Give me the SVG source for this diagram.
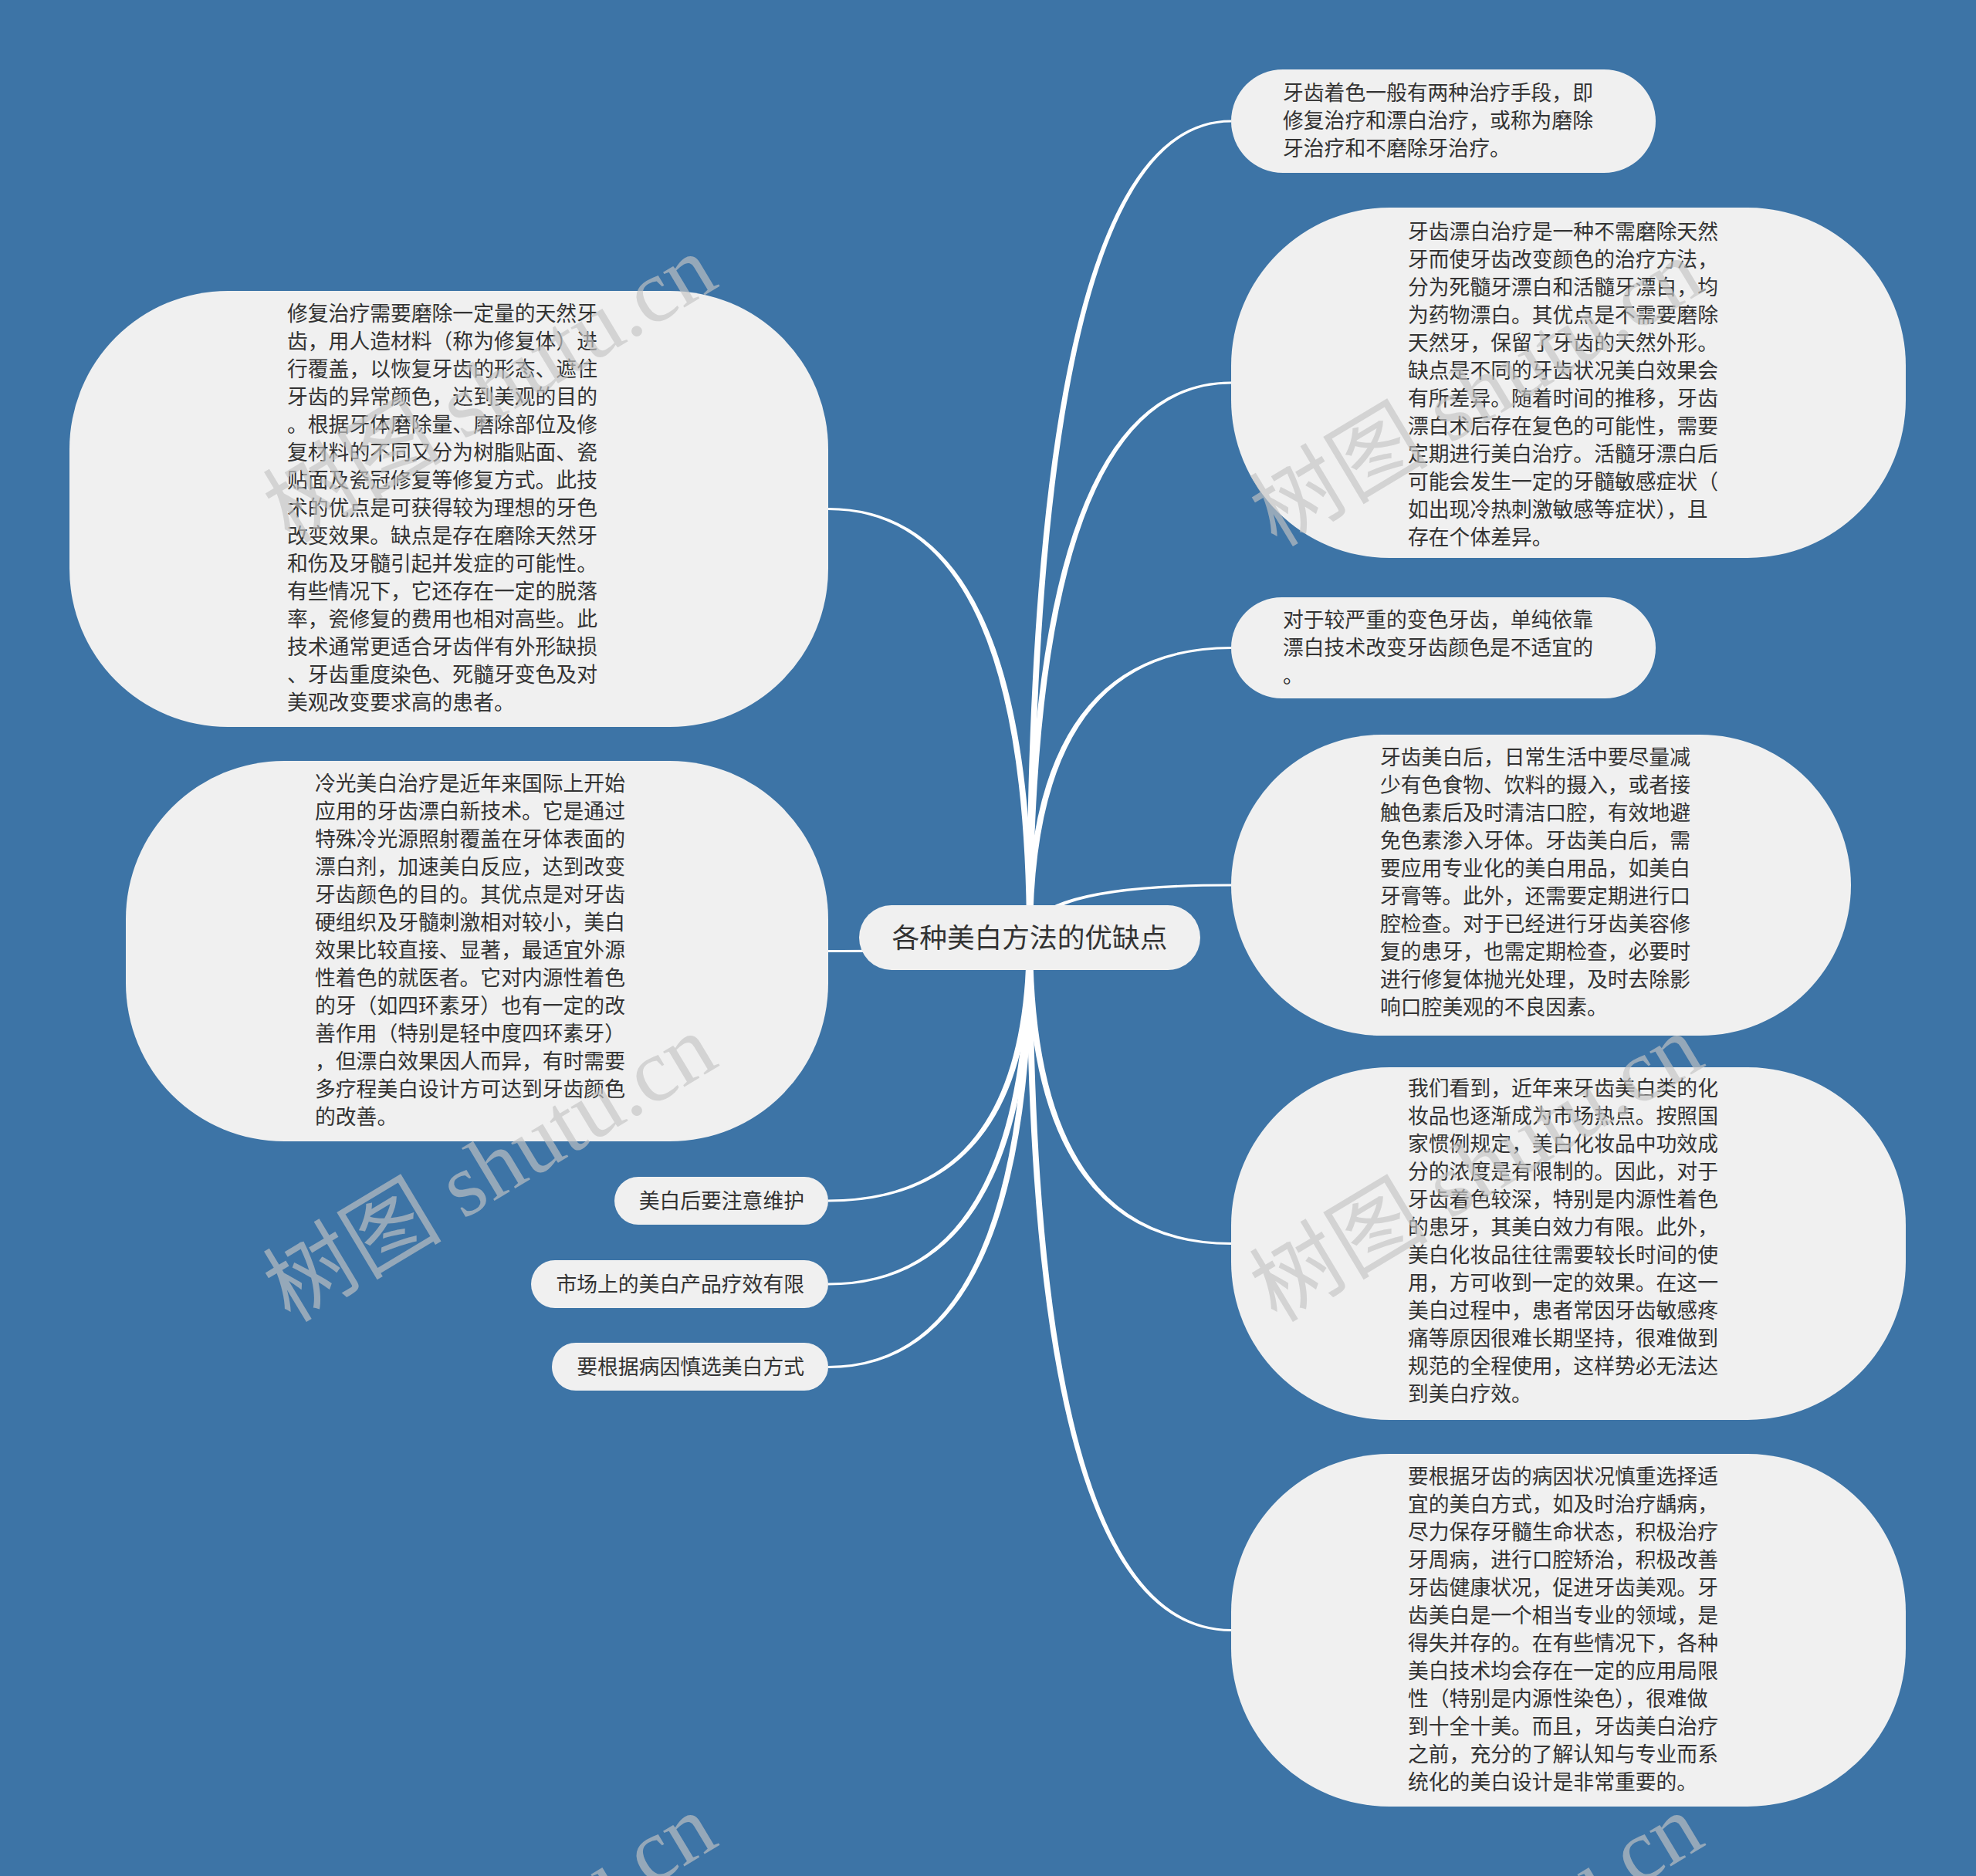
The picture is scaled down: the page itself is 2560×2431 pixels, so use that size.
<svg xmlns="http://www.w3.org/2000/svg" width="2560" height="2431" viewBox="0 0 2560 2431">
<style>
.bg{fill:#3d74a6}
.node{fill:#f0f0f0}
.t{font-family:"Noto Sans CJK SC","Liberation Sans",sans-serif;font-size:26.8px;fill:#333333}
.tc{font-family:"Noto Sans CJK SC","Liberation Sans",sans-serif;font-size:35.7px;fill:#333333}
.edge{fill:#ffffff}
.wm{font-family:"Liberation Serif","Noto Sans CJK SC",serif;font-size:116px;fill:#c4c4c4;opacity:0.65}
</style>
<rect class="bg" x="0" y="0" width="2560" height="2431"/>
<g id="connectors">
<path class="edge" d="M1338 1215 Q1338 158.5 1595 158.5 L1595 155.5 Q1330 155.5 1330 1215 Z"/>
<path class="edge" d="M1338 1215 Q1338 497.5 1595 497.5 L1595 494.5 Q1330 494.5 1330 1215 Z"/>
<path class="edge" d="M1338 1215 Q1338 841 1595 841 L1595 838 Q1330 838 1330 1215 Z"/>
<path class="edge" d="M1338 1215 Q1338 1148.5 1595 1148.5 L1595 1145.5 Q1330 1145.5 1330 1215 Z"/>
<path class="edge" d="M1338 1215 Q1338 1610 1595 1610 L1595 1613 Q1330 1613 1330 1215 Z"/>
<path class="edge" d="M1338 1215 Q1338 2111 1595 2111 L1595 2114 Q1330 2114 1330 1215 Z"/>
<path class="edge" d="M1338 1215 Q1338 658 1073 658 L1073 661 Q1330 661 1330 1215 Z"/>
<path class="edge" d="M1338 1215 Q1338 1234 1073 1234 L1073 1231 Q1330 1231 1330 1215 Z"/>
<path class="edge" d="M1338 1215 Q1338 1557.5 1073 1557.5 L1073 1554.5 Q1330 1554.5 1330 1215 Z"/>
<path class="edge" d="M1338 1215 Q1338 1665.5 1073 1665.5 L1073 1662.5 Q1330 1662.5 1330 1215 Z"/>
<path class="edge" d="M1338 1215 Q1338 1773 1073 1773 L1073 1770 Q1330 1770 1330 1215 Z"/>
</g>
<g id="center">
<rect class="node" x="1113" y="1173" width="442" height="84" rx="42"/>
<text class="tc" x="1334" y="1228" text-anchor="middle">各种美白方法的优缺点</text>
</g>
<g id="r1">
<rect class="node" x="1595" y="90" width="550" height="134" rx="67"/>
<text class="t" x="1662" y="130">牙齿着色一般有两种治疗手段，即</text>
<text class="t" x="1662" y="166">修复治疗和漂白治疗，或称为磨除</text>
<text class="t" x="1662" y="202">牙治疗和不磨除牙治疗。</text>
</g>
<g id="r2">
<rect class="node" x="1595" y="269" width="874" height="454" rx="205"/>
<text class="t" x="1824" y="310">牙齿漂白治疗是一种不需磨除天然</text>
<text class="t" x="1824" y="346">牙而使牙齿改变颜色的治疗方法，</text>
<text class="t" x="1824" y="382">分为死髓牙漂白和活髓牙漂白，均</text>
<text class="t" x="1824" y="418">为药物漂白。其优点是不需要磨除</text>
<text class="t" x="1824" y="454">天然牙，保留了牙齿的天然外形。</text>
<text class="t" x="1824" y="490">缺点是不同的牙齿状况美白效果会</text>
<text class="t" x="1824" y="526">有所差异。随着时间的推移，牙齿</text>
<text class="t" x="1824" y="562">漂白术后存在复色的可能性，需要</text>
<text class="t" x="1824" y="598">定期进行美白治疗。活髓牙漂白后</text>
<text class="t" x="1824" y="634">可能会发生一定的牙髓敏感症状（</text>
<text class="t" x="1824" y="670">如出现冷热刺激敏感等症状），且</text>
<text class="t" x="1824" y="706">存在个体差异。</text>
</g>
<g id="r3">
<rect class="node" x="1595" y="774" width="550" height="131" rx="65.5"/>
<text class="t" x="1662" y="813">对于较严重的变色牙齿，单纯依靠</text>
<text class="t" x="1662" y="849">漂白技术改变牙齿颜色是不适宜的</text>
<text class="t" x="1662" y="885">。</text>
</g>
<g id="r4">
<rect class="node" x="1595" y="952" width="803" height="390" rx="195"/>
<text class="t" x="1788" y="991">牙齿美白后，日常生活中要尽量减</text>
<text class="t" x="1788" y="1027">少有色食物、饮料的摄入，或者接</text>
<text class="t" x="1788" y="1063">触色素后及时清洁口腔，有效地避</text>
<text class="t" x="1788" y="1099">免色素渗入牙体。牙齿美白后，需</text>
<text class="t" x="1788" y="1135">要应用专业化的美白用品，如美白</text>
<text class="t" x="1788" y="1171">牙膏等。此外，还需要定期进行口</text>
<text class="t" x="1788" y="1207">腔检查。对于已经进行牙齿美容修</text>
<text class="t" x="1788" y="1243">复的患牙，也需定期检查，必要时</text>
<text class="t" x="1788" y="1279">进行修复体抛光处理，及时去除影</text>
<text class="t" x="1788" y="1315">响口腔美观的不良因素。</text>
</g>
<g id="r5">
<rect class="node" x="1595" y="1383" width="874" height="457" rx="205"/>
<text class="t" x="1824" y="1420">我们看到，近年来牙齿美白类的化</text>
<text class="t" x="1824" y="1456">妆品也逐渐成为市场热点。按照国</text>
<text class="t" x="1824" y="1492">家惯例规定，美白化妆品中功效成</text>
<text class="t" x="1824" y="1528">分的浓度是有限制的。因此，对于</text>
<text class="t" x="1824" y="1564">牙齿着色较深，特别是内源性着色</text>
<text class="t" x="1824" y="1600">的患牙，其美白效力有限。此外，</text>
<text class="t" x="1824" y="1636">美白化妆品往往需要较长时间的使</text>
<text class="t" x="1824" y="1672">用，方可收到一定的效果。在这一</text>
<text class="t" x="1824" y="1708">美白过程中，患者常因牙齿敏感疼</text>
<text class="t" x="1824" y="1744">痛等原因很难长期坚持，很难做到</text>
<text class="t" x="1824" y="1780">规范的全程使用，这样势必无法达</text>
<text class="t" x="1824" y="1816">到美白疗效。</text>
</g>
<g id="r6">
<rect class="node" x="1595" y="1884" width="874" height="457" rx="205"/>
<text class="t" x="1824" y="1923">要根据牙齿的病因状况慎重选择适</text>
<text class="t" x="1824" y="1959">宜的美白方式，如及时治疗龋病，</text>
<text class="t" x="1824" y="1995">尽力保存牙髓生命状态，积极治疗</text>
<text class="t" x="1824" y="2031">牙周病，进行口腔矫治，积极改善</text>
<text class="t" x="1824" y="2067">牙齿健康状况，促进牙齿美观。牙</text>
<text class="t" x="1824" y="2103">齿美白是一个相当专业的领域，是</text>
<text class="t" x="1824" y="2139">得失并存的。在有些情况下，各种</text>
<text class="t" x="1824" y="2175">美白技术均会存在一定的应用局限</text>
<text class="t" x="1824" y="2211">性（特别是内源性染色），很难做</text>
<text class="t" x="1824" y="2247">到十全十美。而且，牙齿美白治疗</text>
<text class="t" x="1824" y="2283">之前，充分的了解认知与专业而系</text>
<text class="t" x="1824" y="2319">统化的美白设计是非常重要的。</text>
</g>
<g id="l1">
<rect class="node" x="90" y="377" width="983" height="565" rx="205"/>
<text class="t" x="372" y="416">修复治疗需要磨除一定量的天然牙</text>
<text class="t" x="372" y="452">齿，用人造材料（称为修复体）进</text>
<text class="t" x="372" y="488">行覆盖，以恢复牙齿的形态、遮住</text>
<text class="t" x="372" y="524">牙齿的异常颜色，达到美观的目的</text>
<text class="t" x="372" y="560">。根据牙体磨除量、磨除部位及修</text>
<text class="t" x="372" y="596">复材料的不同又分为树脂贴面、瓷</text>
<text class="t" x="372" y="632">贴面及瓷冠修复等修复方式。此技</text>
<text class="t" x="372" y="668">术的优点是可获得较为理想的牙色</text>
<text class="t" x="372" y="704">改变效果。缺点是存在磨除天然牙</text>
<text class="t" x="372" y="740">和伤及牙髓引起并发症的可能性。</text>
<text class="t" x="372" y="776">有些情况下，它还存在一定的脱落</text>
<text class="t" x="372" y="812">率，瓷修复的费用也相对高些。此</text>
<text class="t" x="372" y="848">技术通常更适合牙齿伴有外形缺损</text>
<text class="t" x="372" y="884">、牙齿重度染色、死髓牙变色及对</text>
<text class="t" x="372" y="920">美观改变要求高的患者。</text>
</g>
<g id="l2">
<rect class="node" x="163" y="986" width="910" height="493" rx="205"/>
<text class="t" x="408" y="1025">冷光美白治疗是近年来国际上开始</text>
<text class="t" x="408" y="1061">应用的牙齿漂白新技术。它是通过</text>
<text class="t" x="408" y="1097">特殊冷光源照射覆盖在牙体表面的</text>
<text class="t" x="408" y="1133">漂白剂，加速美白反应，达到改变</text>
<text class="t" x="408" y="1169">牙齿颜色的目的。其优点是对牙齿</text>
<text class="t" x="408" y="1205">硬组织及牙髓刺激相对较小，美白</text>
<text class="t" x="408" y="1241">效果比较直接、显著，最适宜外源</text>
<text class="t" x="408" y="1277">性着色的就医者。它对内源性着色</text>
<text class="t" x="408" y="1313">的牙（如四环素牙）也有一定的改</text>
<text class="t" x="408" y="1349">善作用（特别是轻中度四环素牙）</text>
<text class="t" x="408" y="1385">，但漂白效果因人而异，有时需要</text>
<text class="t" x="408" y="1421">多疗程美白设计方可达到牙齿颜色</text>
<text class="t" x="408" y="1457">的改善。</text>
</g>
<g id="s1">
<rect class="node" x="796" y="1525" width="277" height="62" rx="31"/>
<text class="t" x="1042" y="1566" text-anchor="end">美白后要注意维护</text>
</g>
<g id="s2">
<rect class="node" x="688" y="1633" width="385" height="62" rx="31"/>
<text class="t" x="1042" y="1674" text-anchor="end">市场上的美白产品疗效有限</text>
</g>
<g id="s3">
<rect class="node" x="715" y="1740" width="358" height="62" rx="31"/>
<text class="t" x="1042" y="1781" text-anchor="end">要根据病因慎选美白方式</text>
</g>
<g id="watermark">
<text class="wm" transform="translate(376 705) rotate(-31)">树图 shutu.cn</text>
<text class="wm" transform="translate(376 1715) rotate(-31)">树图 shutu.cn</text>
<text class="wm" transform="translate(1654 710) rotate(-31)">树图 shutu.cn</text>
<text class="wm" transform="translate(1654 1715) rotate(-31)">树图 shutu.cn</text>
<text class="wm" transform="translate(376 2725) rotate(-31)">树图 shutu.cn</text>
<text class="wm" transform="translate(1654 2725) rotate(-31)">树图 shutu.cn</text>
</g>
</svg>
